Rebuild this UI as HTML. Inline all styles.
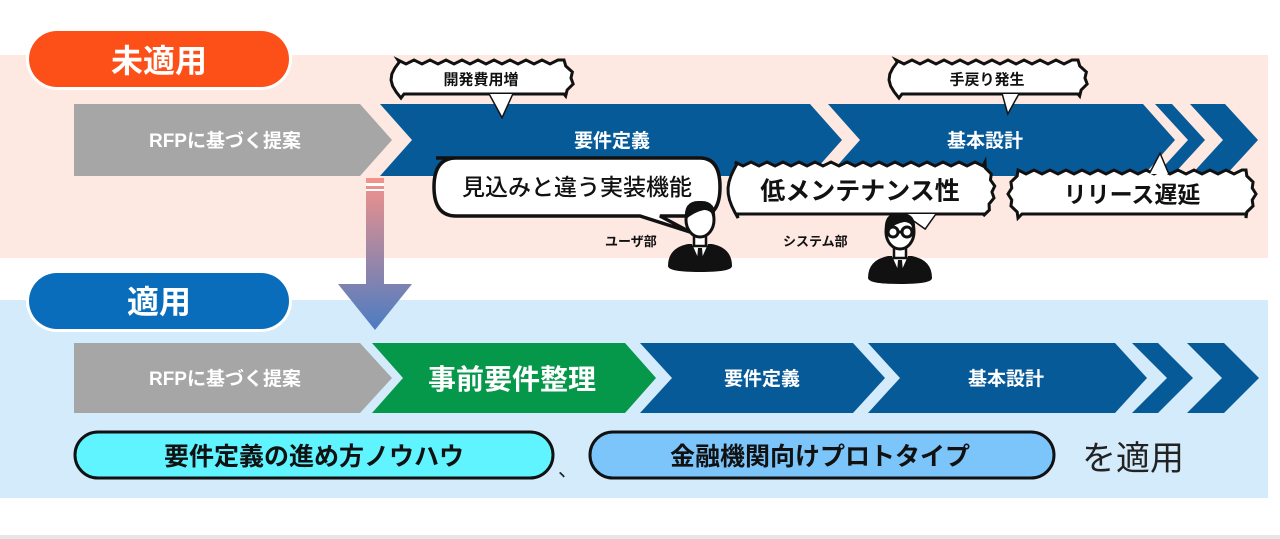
<!DOCTYPE html>
<html><head><meta charset="utf-8"><style>
html,body{margin:0;padding:0;background:#fff;width:1280px;height:539px;overflow:hidden}
svg{display:block}
text{font-family:"Liberation Sans","Noto Sans CJK JP",sans-serif;font-weight:bold}
</style></head><body>
<svg id="s" width="1280" height="539" viewBox="0 0 1280 539" xmlns="http://www.w3.org/2000/svg">
<defs>
<linearGradient id="g" x1="0" y1="178" x2="0" y2="330" gradientUnits="userSpaceOnUse">
<stop offset="0" stop-color="#f4928a"/><stop offset="1" stop-color="#4b7cc2"/>
</linearGradient>
<g id="person">
<path d="M-32,26 Q-32,8 -12,4 L12,4 Q32,8 32,26 Q32,32 0,32 Q-32,32 -32,26 Z" fill="#111"/>
<polygon points="-8,4 8,4 0,22" fill="#fff"/>
<polygon points="-2,8 2,8 3,20 0,24 -3,20" fill="#111"/>
<rect x="-6" y="-8" width="12" height="14" fill="#fff" stroke="#111" stroke-width="2.5"/>
<ellipse cx="0" cy="-20" rx="14" ry="17" fill="#fff" stroke="#111" stroke-width="3"/>
<path d="M-15,-20 Q-17,-40 0,-39 Q17,-40 15,-20 Q12,-30 4,-30 Q-6,-28 -15,-20 Z" fill="#111"/>
</g>
</defs>
<rect x="0" y="55" width="1268" height="203" fill="#fde8e2"/>
<rect x="0" y="300" width="1268" height="198" fill="#d3ebfa"/>
<rect x="0" y="535" width="1280" height="4" fill="#e6e6e6"/>

<rect x="26" y="28" width="266" height="62" rx="31" fill="#fff"/>
<rect x="29" y="31" width="260" height="56" rx="28" fill="#fd5019"/>
<text x="159" y="72" font-size="32" fill="#fff" text-anchor="middle">未適用</text>
<rect x="26" y="270" width="266" height="62" rx="31" fill="#fff"/>
<rect x="29" y="273" width="260" height="56" rx="28" fill="#0a6dbb"/>
<text x="159" y="313" font-size="32" fill="#fff" text-anchor="middle">適用</text>

<polygon points="74,104 360,104 392,140 360,176 74,176" fill="#a6a6a6"/>
<text x="225" y="147" font-size="19" fill="#fff" text-anchor="middle">RFPに基づく提案</text>
<polygon points="380,104 810,104 842,140 810,176 380,176 412,140" fill="#065a98"/>
<text x="612" y="147" font-size="19" fill="#fff" text-anchor="middle">要件定義</text>
<polygon points="828,104 1143,104 1175,140 1143,176 828,176 860,140" fill="#065a98"/>
<text x="985" y="147" font-size="19" fill="#fff" text-anchor="middle">基本設計</text>
<polygon points="1155,104 1172,104 1205,140 1172,176 1155,176 1188,140" fill="#065a98"/>
<polygon points="1190,104 1225,104 1258,140 1225,176 1190,176 1223,140" fill="#065a98"/>

<rect x="366" y="178" width="18" height="108" fill="url(#g)"/>
<rect x="366" y="183" width="18" height="3" fill="#fff"/>
<rect x="366" y="189" width="18" height="2" fill="#fff"/>
<polygon points="338,284 412,284 375,330" fill="url(#g)"/>

<polygon points="74,343 360,343 392,378 360,413 74,413" fill="#a6a6a6"/>
<text x="225" y="385" font-size="19" fill="#fff" text-anchor="middle">RFPに基づく提案</text>
<polygon points="372,343 625,343 656,378 625,413 372,413 403,378" fill="#05974a"/>
<text x="512" y="389" font-size="28" fill="#fff" text-anchor="middle">事前要件整理</text>
<polygon points="640,343 853,343 885,378 853,413 640,413 672,378" fill="#065a98"/>
<text x="762" y="385" font-size="19" fill="#fff" text-anchor="middle">要件定義</text>
<polygon points="868,343 1115,343 1147,378 1115,413 868,413 900,378" fill="#065a98"/>
<text x="1006" y="385" font-size="19" fill="#fff" text-anchor="middle">基本設計</text>
<polygon points="1132,343 1158,343 1193,378 1158,413 1132,413 1167,378" fill="#065a98"/>
<polygon points="1187,343 1224,343 1259,378 1224,413 1187,413 1222,378" fill="#065a98"/>

<rect x="75" y="432" width="478" height="46" rx="23" fill="#5ff4ff" stroke="#111" stroke-width="3"/>
<text x="314" y="465" font-size="25" fill="#111" text-anchor="middle">要件定義の進め方ノウハウ</text>
<text x="558" y="476" font-size="20" fill="#222" style="font-weight:normal">、</text>
<rect x="590" y="432" width="464" height="46" rx="23" fill="#7cc5fa" stroke="#111" stroke-width="3"/>
<text x="820" y="465" font-size="25" fill="#111" text-anchor="middle">金融機関向けプロトタイプ</text>
<text x="1082" y="470" font-size="34" fill="#222" style="font-weight:normal">を適用</text>

<g id="bubbles"></g>
<path d="M436,158 H700 Q720,158 720,187 Q720,216 700,216 H660 L690,232 L640,216 H456 Q434,216 434,187 Q434,158 456,158 Z" fill="#fff" stroke="#111" stroke-width="3.5"/>
<text x="577" y="195" font-size="23" fill="#111" text-anchor="middle" style="font-weight:500">見込みと違う実装機能</text>

<text x="605" y="246" font-size="13" fill="#111">ユーザ部</text>
<text x="783" y="246" font-size="13" fill="#111">システム部</text>

<use href="#person" x="700" y="240"/>
<use href="#person" x="900" y="252"/>
<g fill="none" stroke="#111" stroke-width="3"><circle cx="893" cy="232" r="5"/><circle cx="907" cy="232" r="5"/><line x1="898" y1="232" x2="902" y2="232"/></g>
</svg>
<script>
function jag(x,y,w,h,amp){
  var pts=[],step=8,i;
  for(i=0;i<=w;i+=step){pts.push([x+i,y+((i/step)%2?amp:0)]);}
  var rs=6;
  for(i=0;i<=h;i+=rs){var d=Math.sin(Math.PI*i/h)*10;pts.push([x+w+d+((i/rs)%2?-3:0),y+i]);}
  for(i=w;i>=0;i-=step){pts.push([x+i,y+h-((i/step)%2?amp:0)]);}
  for(i=h;i>=0;i-=rs){var d=Math.sin(Math.PI*i/h)*10;pts.push([x-d+((i/rs)%2?3:0),y+i]);}
  return pts.map(function(p){return p.join(',')}).join(' ');
}
var g=document.getElementById('bubbles'),ns='http://www.w3.org/2000/svg';
function add(x,y,w,h,txt,fs,tail){
  if(tail){var t=document.createElementNS(ns,'polygon');t.setAttribute('points',tail);t.setAttribute('fill','#fff');t.setAttribute('stroke','#111');t.setAttribute('stroke-width','3');g.appendChild(t);}
  var p=document.createElementNS(ns,'polygon');p.setAttribute('points',jag(x,y,w,h,4));p.setAttribute('fill','#fff');p.setAttribute('stroke','#111');p.setAttribute('stroke-width','3');g.appendChild(p);
  if(tail){var t2=document.createElementNS(ns,'polygon');t2.setAttribute('points',tail);t2.setAttribute('fill','#fff');g.appendChild(t2);}
  var tx=document.createElementNS(ns,'text');tx.setAttribute('x',x+w/2);tx.setAttribute('y',y+h/2+fs*0.37);tx.setAttribute('font-size',fs);tx.setAttribute('fill','#111');tx.setAttribute('text-anchor','middle');tx.textContent=txt;g.appendChild(tx);
}
add(398,60,166,38,'開発費用増',15,'490,94 502,116 512,94');
add(896,60,182,38,'手戻り発生',15,'1003,94 1008,112 1018,94');
add(735,162,250,56,'低メンテナンス性',25,'905,214 925,228 935,214');
add(1018,170,228,48,'リリース遅延',23,'1150,174 1160,155 1168,174');
</script>
</body></html>
